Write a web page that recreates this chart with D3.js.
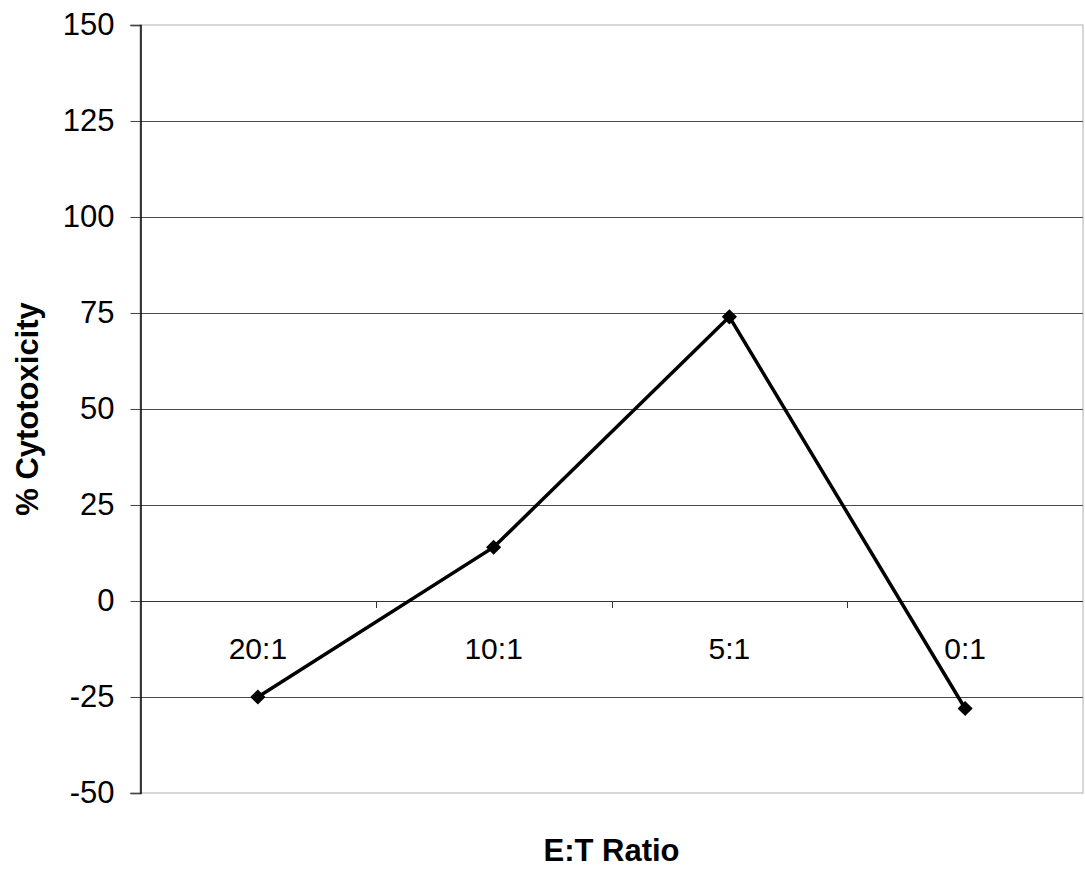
<!DOCTYPE html>
<html>
<head>
<meta charset="utf-8">
<script src="https://cdn.jsdelivr.net/npm/d3@7"></script>
<style>
  body { margin: 0; background: #fff; }
  text { font-family: "Liberation Sans", Arial, sans-serif; fill: #000; }
</style>
</head>
<body>
<div id="chart"></div>
<script>
var categories = ["20:1", "10:1", "5:1", "0:1"];
var cytotoxicity = [-25, 14, 74, -28];
var yTicks = [-50, -25, 0, 25, 50, 75, 100, 125, 150];

var width = 1085, height = 869;
var margin = { left: 140, right: 2, top: 25, bottom: 76 };

var svg = d3.select("#chart").append("svg")
    .attr("width", width)
    .attr("height", height);

var x = d3.scaleBand()
    .domain(categories)
    .range([margin.left, width - margin.right]);

var y = d3.scaleLinear()
    .domain([-50, 150])
    .range([height - margin.bottom, margin.top]);

// light frame on top, right and bottom
svg.append("rect")
    .attr("x", margin.left)
    .attr("y", y(150))
    .attr("width", x.range()[1] - margin.left)
    .attr("height", y(-50) - y(150))
    .style("fill", "none")
    .style("stroke", "#b0b0b0")
    .style("stroke-width", 1);

// gridlines
svg.append("g")
    .selectAll("line")
    .data(yTicks.filter(function (d) { return d > -50 && d < 150; }))
    .enter().append("line")
    .attr("x1", margin.left)
    .attr("x2", width - margin.right)
    .attr("y1", function (d) { return Math.round(y(d)) + 0.5; })
    .attr("y2", function (d) { return Math.round(y(d)) + 0.5; })
    .style("stroke", function (d) { return d === 0 ? "#333" : "#4a4a4a"; })
    .style("stroke-width", 1);

// y axis
var yAxis = svg.append("g")
    .attr("transform", "translate(" + (margin.left + 0.5) + ",0)")
    .call(d3.axisLeft(y)
        .tickValues(yTicks)
        .tickSize(10)
        .tickPadding(16)
        .tickFormat(function (d) { return String(d); }));

yAxis.select(".domain").style("stroke", "#000").style("stroke-width", 1.5);
yAxis.selectAll(".tick line").style("stroke", "#444");
yAxis.selectAll(".tick text")
    .attr("font-size", null)
    .style("font-size", "31px")
    .style("font-family", "Liberation Sans, Arial, sans-serif");

// category ticks on zero line
svg.append("g")
    .selectAll("line")
    .data(categories.slice(1))
    .enter().append("line")
    .attr("x1", function (d) { return Math.round(x(d)) + 0.5; })
    .attr("x2", function (d) { return Math.round(x(d)) + 0.5; })
    .attr("y1", y(0))
    .attr("y2", y(0) + 7)
    .style("stroke", "#333");

// category labels
svg.append("g")
    .selectAll("text")
    .data(categories)
    .enter().append("text")
    .attr("x", function (d) { return x(d) + x.bandwidth() / 2; })
    .attr("y", y(0) + 58)
    .attr("text-anchor", "middle")
    .style("font-size", "30px")
    .text(function (d) { return d; });

// line series
var line = d3.line()
    .x(function (d, i) { return x(categories[i]) + x.bandwidth() / 2; })
    .y(function (d) { return y(d); });

svg.append("path")
    .datum(cytotoxicity)
    .attr("d", line)
    .style("fill", "none")
    .style("stroke", "#000")
    .style("stroke-width", 3.5);

svg.append("g")
    .selectAll("path")
    .data(cytotoxicity)
    .enter().append("path")
    .attr("d", d3.symbol().type(d3.symbolSquare).size(115))
    .attr("transform", function (d, i) {
        return "translate(" + (x(categories[i]) + x.bandwidth() / 2) + "," + y(d) + ") rotate(45)";
    })
    .style("fill", "#000");

// axis titles
svg.append("text")
    .attr("transform", "translate(38," + ((y(150) + y(-50)) / 2) + ") rotate(-90)")
    .attr("text-anchor", "middle")
    .style("font-size", "31px")
    .style("font-weight", "bold")
    .text("% Cytotoxicity");

svg.append("text")
    .attr("x", (margin.left + width - margin.right) / 2)
    .attr("y", 861)
    .attr("text-anchor", "middle")
    .style("font-size", "31px")
    .style("font-weight", "bold")
    .text("E:T Ratio");
</script>
</body>
</html>
